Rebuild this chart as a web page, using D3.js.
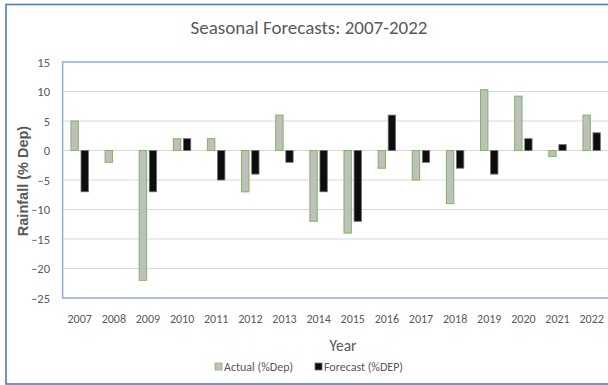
<!DOCTYPE html>
<html>
<head>
<meta charset="utf-8">
<script src="https://cdn.jsdelivr.net/npm/d3@7"></script>
<style>
  html, body { margin: 0; padding: 0; background: #fff; }
  svg { display: block; }
</style>
</head>
<body>
<svg id="chart" width="608" height="385"></svg>
<script>
// Seasonal rainfall departures: observed vs. forecast
const years = ["2007","2008","2009","2010","2011","2012","2013","2014","2015","2016","2017","2018","2019","2020","2021","2022"];
const actual = [5, -2, -22, 2, 2, -7, 6, -12, -14, -3, -5, -9, 10.3, 9.2, -1, 6];
const forecast = [-7, 0, -7, 2, -5, -4, -2, -7, -12, 6, -2, -3, -4, 2, 1, 3];
const seriesNames = ["Actual (%Dep)", "Forecast (%DEP)"];
const yTicks = [15, 10, 5, 0, -5, -10, -15, -20, -25];

const uiFont = "Carlito, Calibri, Lato, 'Open Sans', sans-serif";
const textGrey = "#595959";

const svg = d3.select("#chart");
const W = 608, H = 385;
const plot = { left: 62.6, right: 608.7, top: 62, bottom: 298 };

svg.append("rect").attr("width", W).attr("height", H).attr("fill", "#fff");

// Chart frame
svg.append("rect")
  .attr("x", 6).attr("y", 4.5)
  .attr("width", 620).attr("height", 379.5)
  .attr("fill", "none").attr("stroke", "#4A7BC6").attr("stroke-width", 1.6);

const x = d3.scaleBand().domain(years).range([plot.left, plot.right]).padding(0);
const x1 = d3.scaleBand().domain(seriesNames)
  .range([x.bandwidth() * 0.245, x.bandwidth() * 0.755])
  .paddingInner(0.27);
const y = d3.scaleLinear().domain([-25, 15]).range([plot.bottom, plot.top]);

// Horizontal gridlines
svg.append("g")
  .selectAll("line")
  .data(yTicks.filter(t => t > -25 && t < 15))
  .join("line")
  .attr("x1", plot.left).attr("x2", plot.right)
  .attr("y1", d => y(d)).attr("y2", d => y(d))
  .attr("stroke", "#D9D9D9").attr("stroke-width", 1);

// Bars
const rows = years.map((yr, i) => ({ year: yr, values: [
  { key: seriesNames[0], v: actual[i] },
  { key: seriesNames[1], v: forecast[i] }
]}));

const styles = {
  "Actual (%Dep)": { fill: "#BFBFBF", stroke: "#80BC5E", sw: 1.1 },
  "Forecast (%DEP)": { fill: "#0D0D0D", stroke: "#6E6E6E", sw: 0.8 }
};

svg.append("g")
  .selectAll("g")
  .data(rows)
  .join("g")
  .attr("transform", d => `translate(${x(d.year)},0)`)
  .selectAll("rect")
  .data(d => d.values.filter(s => s.v !== 0))
  .join("rect")
  .attr("x", d => x1(d.key))
  .attr("width", x1.bandwidth())
  .attr("y", d => y(Math.max(0, d.v)))
  .attr("height", d => Math.abs(y(d.v) - y(0)))
  .attr("fill", d => styles[d.key].fill)
  .attr("stroke", d => styles[d.key].stroke)
  .attr("stroke-width", d => styles[d.key].sw);

// Plot area border (top, left, bottom)
const frame = svg.append("g").attr("stroke", "#8FAADC").attr("stroke-width", 1.5).attr("fill", "none");
frame.append("path")
  .attr("d", `M${plot.right + 5},${plot.top}H${plot.left}V${plot.bottom}H${plot.right + 5}`);

// Y axis labels
const yAxis = d3.axisLeft(y).tickValues(yTicks).tickSize(0).tickPadding(0).tickFormat(d3.format("d"));
const yg = svg.append("g").attr("transform", `translate(${50},0)`).call(yAxis);
yg.select(".domain").remove();
yg.selectAll("text")
  .attr("fill", textGrey)
  .attr("font-family", uiFont)
  .attr("font-size", 12.5);

// X axis labels
const xAxis = d3.axisBottom(x).tickSize(0).tickPadding(0);
const xg = svg.append("g").attr("transform", `translate(0,${314})`).call(xAxis);
xg.select(".domain").remove();
xg.selectAll("text")
  .attr("fill", textGrey)
  .attr("font-family", uiFont)
  .attr("font-size", 12);

// Title
svg.append("text")
  .attr("x", 309).attr("y", 34)
  .attr("text-anchor", "middle")
  .attr("fill", textGrey)
  .attr("font-family", uiFont)
  .attr("font-size", 19)
  .text("Seasonal Forecasts: 2007-2022");

// Axis titles
svg.append("text")
  .attr("transform", "translate(28,181) rotate(-90)")
  .attr("text-anchor", "middle")
  .attr("fill", textGrey)
  .attr("font-family", "'Liberation Sans', Arial, sans-serif")
  .attr("font-weight", "bold")
  .attr("font-size", 14.5)
  .text("Rainfall (% Dep)");

svg.append("text")
  .attr("x", 343).attr("y", 351)
  .attr("text-anchor", "middle")
  .attr("fill", textGrey)
  .attr("font-family", uiFont)
  .attr("font-size", 15.5)
  .text("Year");

// Legend
const legendItems = [
  { key: seriesNames[0], x: 215 },
  { key: seriesNames[1], x: 315 }
];
const lg = svg.append("g");
legendItems.forEach(it => {
  lg.append("rect")
    .attr("x", it.x).attr("y", 363)
    .attr("width", 7).attr("height", 7)
    .attr("fill", styles[it.key].fill)
    .attr("stroke", styles[it.key].stroke)
    .attr("stroke-width", 0.8);
  lg.append("text")
    .attr("x", it.x + 9).attr("y", 371)
    .attr("fill", textGrey)
    .attr("font-family", uiFont)
    .attr("font-size", 12)
    .text(it.key);
});
</script>
</body>
</html>
